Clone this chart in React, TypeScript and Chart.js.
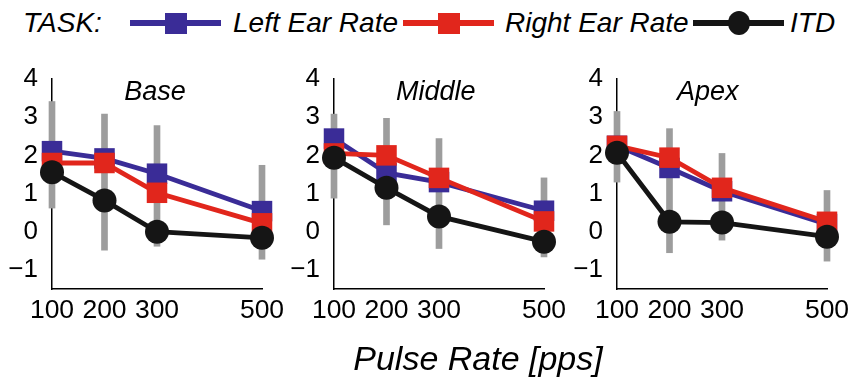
import React, { useEffect, useRef } from 'react';
import { Chart, registerables } from 'chart.js';

Chart.register(...registerables);

// ---------- data ----------
const X_VALUES = [100, 200, 300, 500];
const X_TICKS = [100, 200, 300, 500];
const Y_TICKS = [-1, 0, 1, 2, 3, 4];
const X_MIN = 100;
const X_MAX = 500;
const Y_MIN = -1.5;
const Y_MAX = 4;

const PANEL_TITLES = ['Base', 'Middle', 'Apex'];
const LEGEND_HEADER = 'TASK:';
const SERIES_NAMES = ['Left Ear Rate', 'Right Ear Rate', 'ITD'];
const X_TITLE = 'Pulse Rate [pps]';

const BASE_LEFT = [2.11, 1.92, 1.52, 0.54];
const BASE_RIGHT = [1.8, 1.8, 1.02, 0.22];
const BASE_ITD = [1.56, 0.82, 0.0, -0.16];
const BASE_ERR_LOW = [0.62, -0.48, -0.38, -0.72];
const BASE_ERR_HIGH = [3.41, 3.08, 2.78, 1.74];

const MIDDLE_LEFT = [2.44, 1.54, 1.3, 0.55];
const MIDDLE_RIGHT = [2.05, 2.0, 1.41, 0.27];
const MIDDLE_ITD = [1.94, 1.15, 0.4, -0.26];
const MIDDLE_ERR_LOW = [0.88, 0.18, -0.44, -0.66];
const MIDDLE_ERR_HIGH = [3.08, 2.97, 2.44, 1.41];

const APEX_LEFT = [2.25, 1.67, 1.06, 0.2];
const APEX_RIGHT = [2.25, 1.94, 1.15, 0.26];
const APEX_ITD = [2.07, 0.26, 0.24, -0.13];
const APEX_ERR_LOW = [1.3, -0.55, -0.22, -0.77];
const APEX_ERR_HIGH = [3.15, 2.7, 2.05, 1.08];

// ---------- style ----------
const BLUE = '#3a2c97';
const RED = '#e1261c';
const BLACK = '#151515';
const GRAY = '#9d9d9d';
const FONT = '"Liberation Sans", Arial, Helvetica, sans-serif';

const PANEL_LEFTS = [52, 334, 617];
const PANEL_TITLE_X = [296, 294, 273];
const PLOT_W = 210;
const RIGHT_PAD = 26;
const CANVAS_H = 280;
const CANVAS_TOP = 60;
const Y_AXIS_W = 50;
const CANVAS_W = Y_AXIS_W + PLOT_W + RIGHT_PAD;

type PanelProps = {
  idx: number;
  left: number[];
  right: number[];
  itd: number[];
  errLow: number[];
  errHigh: number[];
};

function Panel({ idx, left, right, itd, errLow, errHigh }: PanelProps) {
  const ref = useRef<HTMLCanvasElement>(null);
  useEffect(() => {
    if (!ref.current) return;
    const title = PANEL_TITLES[idx];
    const titleX = PANEL_TITLE_X[idx];
    const titlePlugin = {
      id: 'panelTitle',
      afterDraw(chart: any) {
        const { ctx, scales, chartArea } = chart;
        ctx.save();
        ctx.font = `italic 27px ${FONT}`;
        ctx.fillStyle = '#000';
        ctx.textAlign = 'center';
        ctx.textBaseline = 'alphabetic';
        ctx.fillText(title, scales.x.getPixelForValue(titleX), chartArea.top + 21);
        ctx.restore();
      },
    };
    const pts = (arr: number[]) => X_VALUES.map((x, i) => ({ x, y: arr[i] }));
    const lineDs = (label: string, arr: number[], color: string, style: string, radius: number, order: number) => ({
      type: 'line' as const,
      label,
      data: pts(arr),
      borderColor: color,
      backgroundColor: color,
      borderWidth: 4.8,
      pointStyle: style,
      pointRadius: radius,
      pointBorderWidth: 0,
      pointBackgroundColor: color,
      pointBorderColor: color,
      order,
      clip: false as any,
    });
    const chart = new Chart(ref.current, {
      type: 'line',
      data: {
        datasets: [
          {
            type: 'bar' as const,
            label: 'err',
            data: X_VALUES.map((x, i) => ({ x, y: [errLow[i], errHigh[i]] })) as any,
            backgroundColor: GRAY,
            borderWidth: 0,
            barThickness: 6,
            order: 4,
            clip: false as any,
          },
          lineDs(SERIES_NAMES[0], left, BLUE, 'rect', 14.5, 3),
          lineDs(SERIES_NAMES[1], right, RED, 'rect', 14.5, 2),
          lineDs(SERIES_NAMES[2], itd, BLACK, 'circle', 12, 1),
        ] as any,
      },
      options: {
        responsive: false,
        animation: false,
        events: [],
        layout: { padding: { left: 0, right: RIGHT_PAD, top: 19, bottom: 11 } },
        plugins: {
          legend: { display: false },
          tooltip: { enabled: false },
          title: { display: false },
        },
        scales: {
          x: {
            type: 'linear',
            min: X_MIN,
            max: X_MAX,
            offset: false,
            grid: { display: false, drawTicks: false },
            border: { display: true, color: '#000', width: 1.5 },
            ticks: {
              color: '#000',
              font: { family: FONT, size: 26.5 },
              padding: 6,
              maxRotation: 0,
              autoSkip: false,
              callback: (v: any) => String(v),
            },
            afterBuildTicks: (s: any) => {
              s.ticks = X_TICKS.map((v) => ({ value: v }));
            },
            afterFit: (s: any) => {
              s.height = 40;
              s.paddingLeft = 0;
              s.paddingRight = 0;
            },
          },
          y: {
            type: 'linear',
            min: Y_MIN,
            max: Y_MAX,
            grid: { display: false, drawTicks: false },
            border: { display: true, color: '#000', width: 1.5 },
            ticks: {
              color: '#000',
              font: { family: FONT, size: 26 },
              padding: 14,
              callback: (v: any) => (Number(v) < 0 ? '\u2212' + Math.abs(Number(v)) : String(v)),
            },
            afterBuildTicks: (s: any) => {
              s.ticks = Y_TICKS.map((v) => ({ value: v }));
            },
            afterFit: (s: any) => {
              s.width = Y_AXIS_W;
              s.paddingTop = 0;
              s.paddingBottom = 0;
            },
          },
        },
      } as any,
      plugins: [titlePlugin],
    });
    return () => chart.destroy();
  }, []);
  return (
    <canvas
      ref={ref}
      width={CANVAS_W}
      height={CANVAS_H}
      style={{
        position: 'absolute',
        left: PANEL_LEFTS[idx] - Y_AXIS_W,
        top: CANVAS_TOP,
        width: CANVAS_W,
        height: CANVAS_H,
      }}
    />
  );
}

function LegendLine({ x, color, marker }: { x: number; color: string; marker: 'square' | 'circle' }) {
  const w = 91;
  return (
    <div style={{ position: 'absolute', left: x, top: 20, width: w, height: 6, background: color }}>
      <div
        style={{
          position: 'absolute',
          left: w / 2 - 11,
          top: marker === 'square' ? -7.5 : -9,
          width: 22,
          height: marker === 'square' ? 21 : 24,
          background: color,
          borderRadius: marker === 'circle' ? '50%' : 0,
        }}
      />
    </div>
  );
}

const legendText: React.CSSProperties = {
  position: 'absolute',
  top: 7,
  fontFamily: FONT,
  fontStyle: 'italic',
  fontSize: 28,
  lineHeight: '32px',
  color: '#000',
  whiteSpace: 'nowrap',
};

export default function App() {
  return (
    <div
      style={{
        position: 'absolute',
        left: 0,
        top: 0,
        width: 853,
        height: 381,
        background: '#fff',
        overflow: 'hidden',
      }}
    >
      <div style={{ ...legendText, left: 23 }}>{LEGEND_HEADER}</div>
      <LegendLine x={130} color={BLUE} marker="square" />
      <div style={{ ...legendText, left: 233 }}>{SERIES_NAMES[0]}</div>
      <LegendLine x={403} color={RED} marker="square" />
      <div style={{ ...legendText, left: 505 }}>{SERIES_NAMES[1]}</div>
      <LegendLine x={693} color={BLACK} marker="circle" />
      <div style={{ ...legendText, left: 790 }}>{SERIES_NAMES[2]}</div>

      <Panel idx={0} left={BASE_LEFT} right={BASE_RIGHT} itd={BASE_ITD} errLow={BASE_ERR_LOW} errHigh={BASE_ERR_HIGH} />
      <Panel idx={1} left={MIDDLE_LEFT} right={MIDDLE_RIGHT} itd={MIDDLE_ITD} errLow={MIDDLE_ERR_LOW} errHigh={MIDDLE_ERR_HIGH} />
      <Panel idx={2} left={APEX_LEFT} right={APEX_RIGHT} itd={APEX_ITD} errLow={APEX_ERR_LOW} errHigh={APEX_ERR_HIGH} />

      <div
        style={{
          position: 'absolute',
          left: 478,
          top: 339,
          transform: 'translateX(-50%)',
          fontFamily: FONT,
          fontStyle: 'italic',
          fontSize: 34,
          lineHeight: '38px',
          color: '#000',
          whiteSpace: 'nowrap',
        }}
      >
        {X_TITLE}
      </div>
    </div>
  );
}
